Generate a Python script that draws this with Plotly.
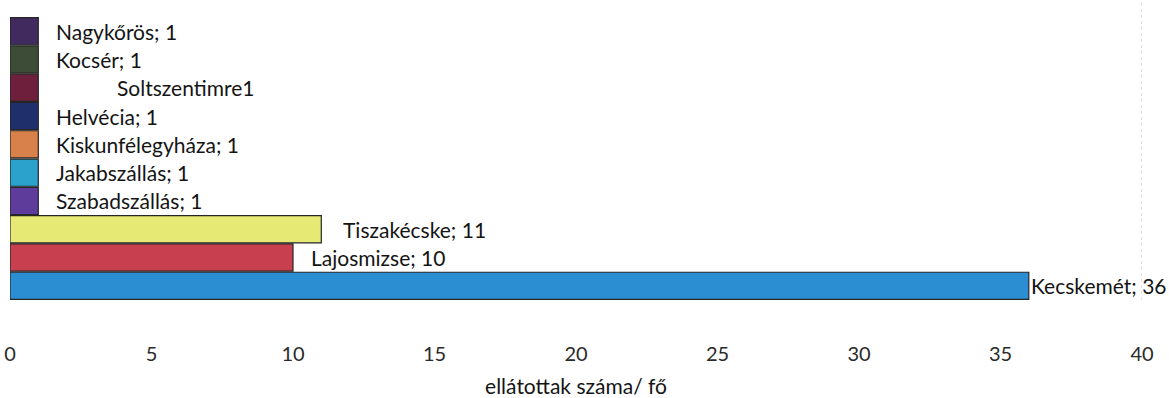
import plotly.graph_objects as go

# Települések alulról felfelé, az ellátottak száma
telepulesek = ["Kecskemét", "Lajosmizse", "Tiszakécske", "Szabadszállás", "Jakabszállás",
               "Kiskunfélegyháza", "Helvécia", "Soltszentimre", "Kocsér", "Nagykőrös"]
ellatottak = [36, 10, 11, 1, 1, 1, 1, 1, 1, 1]
feliratok = ["Kecskemét; 36", "Lajosmizse; 10", "Tiszakécske; 11", "Szabadszállás; 1",
             "Jakabszállás; 1", "Kiskunfélegyháza; 1", "Helvécia; 1", "Soltszentimre1",
             "Kocsér; 1", "Nagykőrös; 1"]
x_tengely_cim = "ellátottak száma/ fő"
x_max = 40

szinek = ["#2B8DD2", "#C8404F", "#E6EA74", "#5E3C9C", "#2AA2CC",
          "#D8814A", "#1F2F6C", "#6E1F3C", "#3C4C37", "#402A5E"]
# felirat vízszintes eltolása pixelben
eltolas = [0, 16, 20, 16, 16, 16, 16, 77, 16, 16]

FONT = "Lato, Carlito, Calibri, sans-serif"

fig = go.Figure(go.Bar(
    x=ellatottak,
    y=telepulesek,
    orientation="h",
    marker=dict(color=szinek, line=dict(color="#262626", width=1.2)),
    hoverinfo="skip",
))

for t, v, f, dx in zip(telepulesek, ellatottak, feliratok, eltolas):
    fig.add_annotation(x=v, y=t, text=f, showarrow=False, xanchor="left",
                       yanchor="middle", xshift=dx,
                       font=dict(family=FONT, size=21, color="#141414"))

# halvány pontozott szegély a tengely végén
fig.add_shape(type="line", x0=x_max, x1=x_max, yref="paper", y0=0, y1=1.05,
              line=dict(color="#c4c4c4", width=1, dash="dot"))

fig.update_layout(
    width=1169, height=398,
    margin=dict(l=10, r=27, t=17, b=98),
    paper_bgcolor="white", plot_bgcolor="white",
    bargap=0.04,
    showlegend=False,
    font=dict(family=FONT, size=20, color="#222222"),
    xaxis=dict(range=[0, x_max], dtick=5, showgrid=False, zeroline=False,
               showline=False, ticks="", ticklabelstandoff=40, automargin=False,
               tickfont=dict(family=FONT, size=20, color="#2a2a2a"),
               title=dict(text=x_tengely_cim, standoff=16,
                          font=dict(family=FONT, size=21, color="#141414"))),
    yaxis=dict(showticklabels=False, showgrid=False, zeroline=False,
               showline=False, ticks="", range=[-0.5, 9.5], automargin=False),
)

fig.write_html("out.html")
